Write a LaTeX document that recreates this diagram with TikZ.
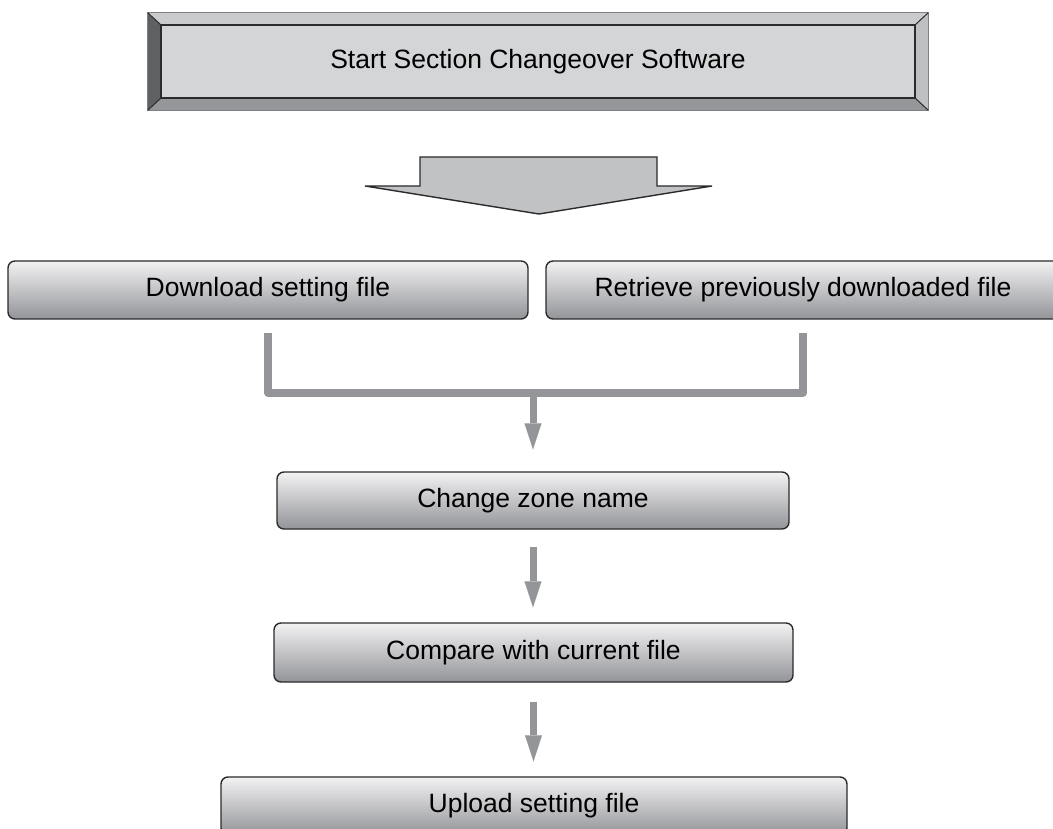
\documentclass[tikz,border=0pt]{standalone}
\usepackage{fontspec}
\setmainfont{Liberation Sans}
\usetikzlibrary{arrows.meta,calc}
\definecolor{boxline}{HTML}{2B2B2D}
\definecolor{gtop}{HTML}{F2F2F3}
\definecolor{gbot}{HTML}{939498}
\definecolor{conngray}{HTML}{939598}
\definecolor{bigfill}{HTML}{C1C2C4}
\definecolor{face}{HTML}{D4D5D7}
\definecolor{bevL}{HTML}{5F6064}
\definecolor{bevT}{HTML}{CACBCD}
\definecolor{bevR}{HTML}{BFC0C2}
\definecolor{bevB}{HTML}{96979A}
\definecolor{outerline}{HTML}{7F8083}
\begin{document}
\begin{tikzpicture}[x=1pt,y=-1pt,
  txt/.style={font=\fontsize{26.5}{30}\selectfont},
  box/.style={txt, draw=boxline, line width=1.4pt, rounded corners=7pt,
    top color=gtop, bottom color=gbot, minimum height=58pt, inner sep=0pt},
  topface/.style={txt, fill=face, minimum width=754pt, minimum height=73pt, inner sep=0pt},
  conn/.style={draw=conngray, line width=7.5pt, line join=round},
  flow/.style={draw=conngray, line width=7pt,
    -{Triangle[width=17pt,length=26pt,line width=0.01pt]}},
  bigarrow/.style={fill=bigfill, draw=boxline, line width=1.4pt, line join=miter}
]
\useasboundingbox (0,0) rectangle (1053,829);

% top bevelled box
\node[topface] (top) at (538,61.5) {Start Section Changeover Software};
\path (top.north west) ++(-13,-12) coordinate (oNW)
      (top.north east) ++(13,-12) coordinate (oNE)
      (top.south west) ++(-13,12) coordinate (oSW)
      (top.south east) ++(13,12) coordinate (oSE);
\fill[bevL] (oNW) -- (top.north west) -- (top.south west) -- (oSW) -- cycle;
\fill[bevT] (oNW) -- (oNE) -- (top.north east) -- (top.north west) -- cycle;
\fill[bevR] (oNE) -- (oSE) -- (top.south east) -- (top.north east) -- cycle;
\fill[bevB] (oSW) -- (top.south west) -- (top.south east) -- (oSE) -- cycle;
\draw[outerline, line width=1pt] (oNW) rectangle (oSE);
\draw[boxline, line width=1pt] (oNW) -- (top.north west) (oNE) -- (top.north east)
      (oSW) -- (top.south west) (oSE) -- (top.south east);
\draw[boxline, line width=1.5pt] (top.north west) rectangle (top.south east);

% big down arrow
\draw[bigarrow] (420,157) -- (657,157) -- (657,186) -- (712,186) -- (539,214)
      -- (365,186) -- (420,186) -- cycle;

% boxes
\node[box, minimum width=520pt] (dl) at (268,290) {Download setting file};
\node[box, minimum width=514pt] (rt) at (803,290) {Retrieve previously downloaded file};
\node[box, minimum width=512pt, minimum height=57pt] (chg) at (533,500.5) {Change zone name};
\node[box, minimum width=519pt, minimum height=59pt] (cmp) at (533.5,652.5) {Compare with current file};
\node[box, minimum width=626pt] (up) at (534,806) {Upload setting file};

% merge connector
\coordinate (jn) at (533,393);
\draw[conn] ($(dl.south)+(0,13)$) |- (jn) -| ($(rt.south)+(0,13)$);
\draw[flow, shorten >=22pt] (jn) -- (jn |- chg.north);

% flow arrows
\draw[flow, shorten <=17pt, shorten >=15pt] (chg.south) -- (chg.south |- cmp.north);
\draw[flow, shorten <=19pt, shorten >=15pt] (cmp.south) -- (cmp.south |- up.north);
\end{tikzpicture}
\end{document}
